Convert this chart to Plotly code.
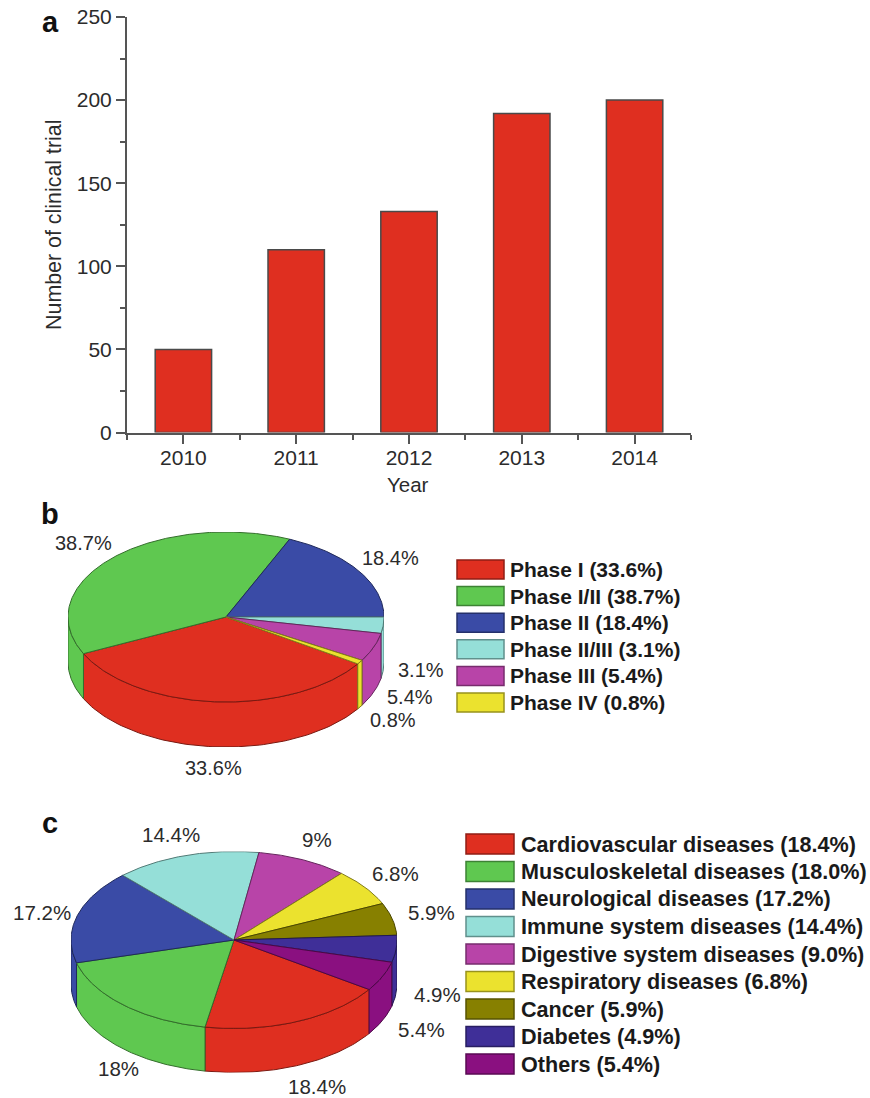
import numpy as np
import plotly.graph_objects as go

# ---------- data ----------
years = [2010, 2011, 2012, 2013, 2014]
trials = [50, 110, 133, 192, 200]

phase_names = ["Phase I (33.6%)", "Phase I/II (38.7%)", "Phase II (18.4%)",
               "Phase II/III (3.1%)", "Phase III (5.4%)", "Phase IV (0.8%)"]
phase_values = [33.6, 38.7, 18.4, 3.1, 5.4, 0.8]
phase_colors = ["#DF2F20", "#5FC850", "#3A4BA6", "#95DFD8", "#B844A8", "#EBE22E"]
phase_labels = ["33.6%", "38.7%", "18.4%", "3.1%", "5.4%", "0.8%"]

disease_names = ["Cardiovascular diseases (18.4%)", "Musculoskeletal diseases (18.0%)",
                 "Neurological diseases (17.2%)", "Immune system diseases (14.4%)",
                 "Digestive system diseases (9.0%)", "Respiratory diseases (6.8%)",
                 "Cancer (5.9%)", "Diabetes (4.9%)", "Others (5.4%)"]
disease_values = [18.4, 18.0, 17.2, 14.4, 9.0, 6.8, 5.9, 4.9, 5.4]
disease_colors = ["#DF2F20", "#5FC850", "#3A4BA6", "#95DFD8", "#B844A8", "#EBE22E",
                  "#878000", "#3F2F98", "#8A1080"]
disease_labels = ["18.4%", "18%", "17.2%", "14.4%", "9%", "6.8%", "5.9%", "4.9%", "5.4%"]

# ---------- layout constants (pixels) ----------
W, H = 870, 1098
FONT = "Liberation Sans, Arial, sans-serif"
TXT = "#2b2b2b"
phase_label_pos = [(213, 768), (83, 543), (390, 558), (421, 670), (410, 697), (393, 720)]
disease_label_pos = [(317, 1086), (118, 1068), (42, 912), (171, 834), (317, 839),
                     (395, 873), (431, 912), (437, 994), (421, 1029)]


def px_x(v):
    return v / W


def px_y(v):
    return 1 - v / H


def darker(c, f=0.55):
    r, g, b = int(c[1:3], 16), int(c[3:5], 16), int(c[5:7], 16)
    return f"rgb({int(r*f)},{int(g*f)},{int(b*f)})"


fig = go.Figure()

# ---------- panel a ----------
fig.add_trace(go.Bar(x=years, y=trials, width=0.5, marker=dict(color="#DF2F20", line=dict(color="#4a4a4a", width=1.5)),
                     showlegend=False, hoverinfo="skip"))


def add_pie(values, colors, start_deg, n, cx, cy, rx, ry, depth):
    """Draw a tilted pie with a side wall on its own hidden axes."""
    xa, ya = f"x{n}", f"y{n}"
    d = depth / ry
    fig.update_layout({
        f"xaxis{n}": dict(domain=[px_x(cx - rx), px_x(cx + rx)], range=[-1, 1], visible=False, anchor=ya),
        f"yaxis{n}": dict(domain=[px_y(cy + ry + depth), px_y(cy - ry)], range=[-1 - d, 1], visible=False, anchor=xa),
    })
    edges = start_deg + np.concatenate([[0], np.cumsum(values)]) * 3.6
    # side wall (only the front half of the disc is visible)
    for a, b, c in zip(edges[:-1], edges[1:], colors):
        for k in (-360, 0, 360):
            lo, hi = max(a, k), min(b, k + 180)
            if hi <= lo:
                continue
            t = np.radians(np.linspace(lo, hi, 80))
            xs = np.concatenate([np.cos(t), np.cos(t[::-1])])
            ys = np.concatenate([-np.sin(t), -np.sin(t[::-1]) - d])
            fig.add_trace(go.Scatter(x=np.append(xs, xs[0]), y=np.append(ys, ys[0]), xaxis=xa, yaxis=ya,
                                     mode="lines", fill="toself", fillcolor=c,
                                     line=dict(color=darker(c), width=1),
                                     showlegend=False, hoverinfo="skip"))
    # top face
    for a, b, c in zip(edges[:-1], edges[1:], colors):
        t = np.radians(np.linspace(a, b, max(int(b - a) * 2, 6)))
        xs = np.concatenate([[0], np.cos(t), [0]])
        ys = np.concatenate([[0], -np.sin(t), [0]])
        fig.add_trace(go.Scatter(x=xs, y=ys, xaxis=xa, yaxis=ya, mode="lines", fill="toself", fillcolor=c,
                                 line=dict(color=darker(c), width=1),
                                 showlegend=False, hoverinfo="skip"))


# phase pie: Phase II / II-III boundary lies at 3 o'clock
add_pie(phase_values, phase_colors, -sum(phase_values[:3]) * 3.6, 2, 226, 617, 158, 85, 45)
add_pie(disease_values, disease_colors, 34, 3, 234, 940, 163, 88.5, 44)

annotations = []
shapes = []


def text(x, y, s, size, bold=False, anchor="center", color=TXT):
    annotations.append(dict(x=px_x(x), y=px_y(y), xref="paper", yref="paper", text=f"<b>{s}</b>" if bold else s,
                            showarrow=False, xanchor=anchor, yanchor="middle", borderpad=0, borderwidth=0,
                            font=dict(family=FONT, size=size, color=color)))


for (x, y), s in zip(phase_label_pos, phase_labels):
    text(x, y, s, 20)
for (x, y), s in zip(disease_label_pos, disease_labels):
    text(x, y, s, 20.5)


def legend(names, colors, x0, x1, y0, step, h, tx, size):
    for i, (nm, c) in enumerate(zip(names, colors)):
        yt = y0 + i * step
        shapes.append(dict(type="rect", xref="paper", yref="paper", x0=px_x(x0), x1=px_x(x1),
                           y0=px_y(yt), y1=px_y(yt + h), fillcolor=c,
                           line=dict(color=darker(c, 0.65), width=1.5)))
        text(tx, yt + h / 2, nm, size, bold=True, anchor="left", color="#1a1a1a")


legend(phase_names, phase_colors, 457, 504, 560, 26.6, 19, 510, 21)
legend(disease_names, disease_colors, 466, 514, 834, 27.5, 20, 521, 21.6)

text(50, 22, "a", 29, bold=True, color="#111111")
text(50, 514, "b", 29, bold=True, color="#111111")
text(50, 823, "c", 29, bold=True, color="#111111")
text(408, 484, "Year", 20.5)

AX = "#555555"
fig.update_layout(
    width=W, height=H, margin=dict(l=0, r=0, t=0, b=0, autoexpand=False), paper_bgcolor="white", plot_bgcolor="white",
    font=dict(family=FONT, size=21, color=TXT),
    xaxis=dict(domain=[px_x(127), px_x(691)], range=[2009.5, 2014.5], tickvals=years, tickformat="d",
               ticks="outside", ticklen=9, tickwidth=2, tickcolor=AX, showline=True, linecolor=AX, linewidth=2,
               showgrid=False, zeroline=False, anchor="y", ticklabelstandoff=-4,
               minor=dict(ticks="outside", tickvals=[2009.5, 2010.5, 2011.5, 2012.5, 2013.5, 2014.5],
                          ticklen=5, tickwidth=2, tickcolor=AX, showgrid=False)),
    yaxis=dict(domain=[px_y(432.5), px_y(17)], range=[0, 250], dtick=50, ticks="outside", ticklen=9,
               tickwidth=2, tickcolor=AX, showline=True, linecolor=AX, linewidth=2, showgrid=False,
               zeroline=False, anchor="x",
               title=dict(text="Number of clinical trial", font=dict(size=21.4), standoff=9),
               minor=dict(ticks="outside", dtick=25, ticklen=5, tickwidth=2, tickcolor=AX, showgrid=False)),
    annotations=annotations, shapes=shapes,
)

fig.write_html("out.html", config=dict(displayModeBar=False),
               post_script="document.body.style.margin='0';")
